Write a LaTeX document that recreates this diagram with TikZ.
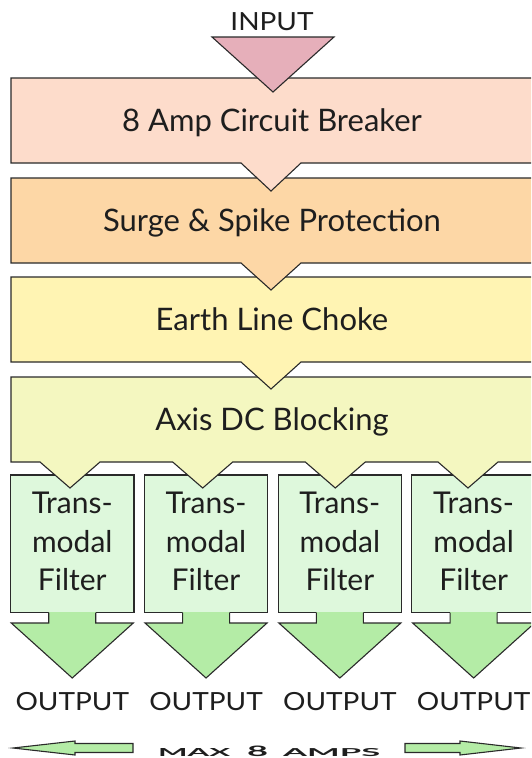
\documentclass[tikz,border=0pt]{standalone}
\usepackage{graphicx}
\usepackage{fontspec}
\setmainfont{Lato}
\newfontfamily\capsfont{Lato}[FakeStretch=1.12]
\definecolor{inpink}{HTML}{E6AFBA}
\definecolor{boxa}{HTML}{FDDCCB}
\definecolor{boxb}{HTML}{FDD7A6}
\definecolor{boxc}{HTML}{FFF4B3}
\definecolor{boxd}{HTML}{F4F7C0}
\definecolor{filterc}{HTML}{DEF8DC}
\definecolor{arrowg}{HTML}{B4ECA6}
\definecolor{linec}{HTML}{2A2A2A}
\definecolor{textc}{HTML}{1E1E1E}
\begin{document}
\begin{tikzpicture}[x=1pt,y=-1pt,
  edge/.style={draw=linec, line width=1.1pt, line join=miter},
  maintext/.style={font=\fontsize{31}{36}\selectfont, text=textc, inner sep=0pt, anchor=base},
  ftext/.style={font=\fontsize{30}{36}\selectfont, text=textc, inner sep=0pt, anchor=base},
  captext/.style={font=\capsfont\fontsize{25}{30}\selectfont, text=textc, inner sep=0pt, anchor=base},
  widetext/.style={font=\bfseries\fontsize{11}{12}\selectfont, text=textc, inner sep=0pt, anchor=base west}]
\clip (0,0) rectangle (531,758);
\fill[white] (0,0) rectangle (531,758);

% filter boxes
\foreach \i in {0,1,2,3} {
  \pgfmathsetmacro\L{10.5+133.8*\i}
  \path[edge, fill=filterc] (\L,475) rectangle ++(123.5,137.7);
}
% output arrows
\foreach \i in {0,1,2,3} {
  \pgfmathsetmacro\c{72.25+133.8*\i}
  \fill[arrowg] (\c-23.5,612) -- (\c+23.5,612) -- (\c+23.5,623) -- (\c+61,623) -- (\c,678) -- (\c-61,623) -- (\c-23.5,623) -- cycle;
  \draw[edge] (\c-23.5,612.7) -- (\c-23.5,623) -- (\c-61,623) -- (\c,678) -- (\c+61,623) -- (\c+23.5,623) -- (\c+23.5,612.7);
}
% box 4 with four pointers
\path[edge, fill=boxd] (11,377) -- (545,377) -- (545,462) -- (498,462) -- (468,488) -- (438,462)
  -- (365.3,462) -- (335.3,488) -- (305.3,462) -- (232.7,462) -- (202.7,488) -- (172.7,462)
  -- (100,462) -- (70,488) -- (40,462) -- (11,462) -- cycle;
% box 3
\path[edge, fill=boxc] (11,277) -- (545,277) -- (545,362) -- (301,362) -- (271,389) -- (241,362) -- (11,362) -- cycle;
% box 2
\path[edge, fill=boxb] (11,178) -- (545,178) -- (545,263) -- (301,263) -- (271,290) -- (241,263) -- (11,263) -- cycle;
% box 1
\path[edge, fill=boxa] (11,78) -- (545,78) -- (545,163) -- (301,163) -- (271,191) -- (241,163) -- (11,163) -- cycle;
% input triangle
\path[edge, fill=inpink] (212,37) -- (334,37) -- (273,92) -- cycle;

% texts
\node[captext] (in) at (272,30) {INPUT};
\node[maintext] (cb) at (272,131.5) {8 Amp Circuit Breaker};
\node[maintext] (sp) at (272,231) {Surge \& Spike Protection};
\node[maintext] (el) at (272,330.5) {Earth Line Choke};
\node[maintext] (dc) at (272,430.5) {Axis DC Blocking};
\foreach \i in {0,1,2,3} {
  \pgfmathsetmacro\c{72.25+133.8*\i}
  \node[ftext] (fa\i) at (\c,513) {Trans-};
  \node[ftext] (fb\i) at (\c,552) {modal};
  \node[ftext] (fc\i) at (\c,590) {Filter};
  \node[captext] (out\i) at (\c,710) {OUTPUT};
}
% max amps
\node[widetext] (mx) at (158,756) {\resizebox{72pt}{8pt}{MAX}};
\node[widetext] (eight) at (247,756) {\resizebox{21pt}{10.5pt}{8}};
\node[widetext] (amps) at (283,756) {\resizebox{97pt}{8pt}{AMPS}};
\path[edge, fill=arrowg] (13,748) -- (75,741) -- (75,743.5) -- (133,743.5) -- (133,752.5) -- (75,752.5) -- (75,755) -- cycle;
\path[edge, fill=arrowg] (521,748) -- (460,741) -- (460,743.5) -- (405,743.5) -- (405,752.5) -- (460,752.5) -- (460,755) -- cycle;
\end{tikzpicture}
\end{document}
